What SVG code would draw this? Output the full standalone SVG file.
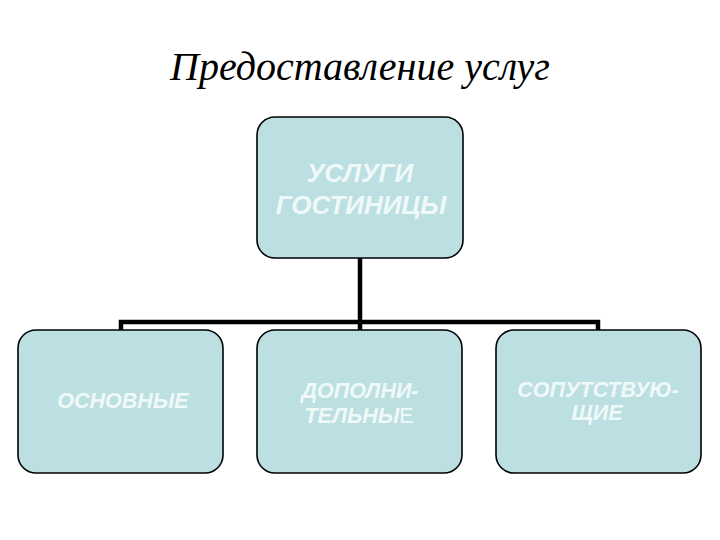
<svg xmlns="http://www.w3.org/2000/svg" width="720" height="540" viewBox="0 0 720 540">
<style>
.box{fill:#bcdfe2;stroke:#000;stroke-width:1.6}
.lbl{font-family:"Liberation Sans",Arial,sans-serif;font-weight:bold;font-style:italic;fill:#f0f9f9;text-anchor:middle}
.conn{fill:none;stroke:#000;stroke-width:4.5}
.title{font-family:"Liberation Serif","Times New Roman",serif;font-style:italic;font-size:40px;fill:#000;text-anchor:middle}
.up{font-style:normal;font-weight:normal}
</style>
<rect width="720" height="540" fill="#fff"/>
<text class="title" x="360" y="80">Предоставление услуг</text>
<g id="connectors">
<path class="conn" d="M360 258 V322 M121 330 V322 H598 V330 M360 322 V330"/>
</g>
<g id="top">
<rect class="box" x="257" y="117" width="206" height="141" rx="18"/>
<text class="lbl" x="360" y="182" font-size="26">УСЛУГИ</text>
<text class="lbl" x="361" y="214" font-size="26">ГОСТИНИЦЫ</text>
</g>
<g id="osnovnye">
<rect class="box" x="18" y="330" width="205" height="143" rx="18"/>
<text class="lbl" x="123" y="408" font-size="21.5">ОСНОВНЫЕ</text>
</g>
<g id="dopolnitelnye">
<rect class="box" x="257" y="330" width="205" height="143" rx="18"/>
<text class="lbl" x="360" y="398" font-size="21.5">ДОПОЛНИ-</text>
<text class="lbl" x="359" y="423" font-size="21.5">ТЕЛЬНЫ<tspan class="up">Е</tspan></text>
</g>
<g id="soputstvuyushchie">
<rect class="box" x="496" y="330" width="205" height="143" rx="18"/>
<text class="lbl" x="598" y="397" font-size="21.5">СОПУТСТВУЮ-</text>
<text class="lbl" x="597" y="420" font-size="21.5">ЩИЕ</text>
</g>
</svg>
